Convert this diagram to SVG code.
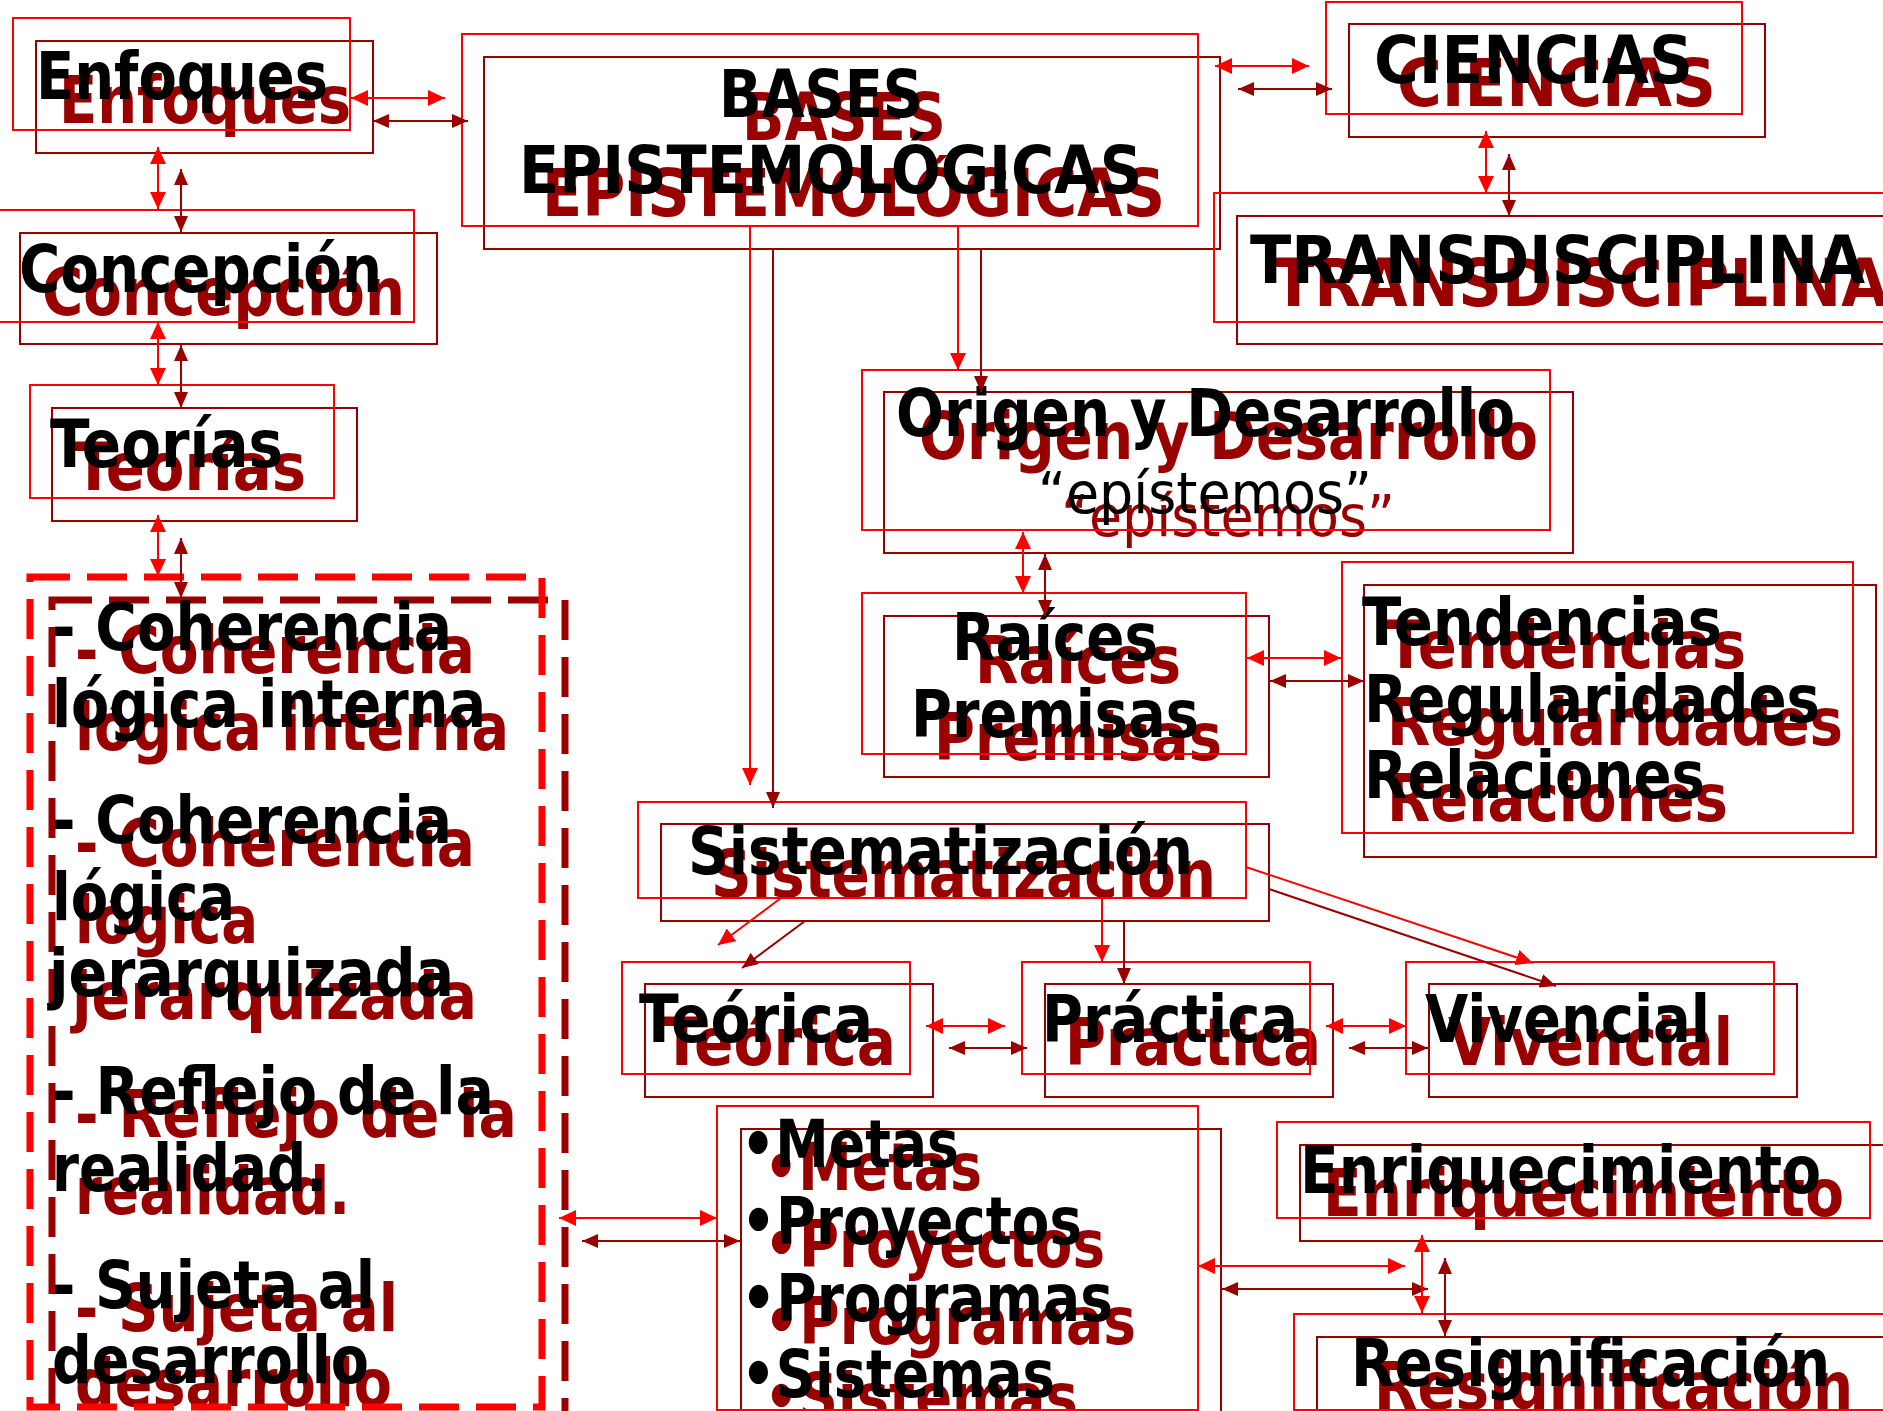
<svg xmlns="http://www.w3.org/2000/svg" width="1883" height="1411" viewBox="0 0 1883 1411">
<style>
.r{fill:none;stroke:#FF0000;stroke-width:2}
.d{fill:none;stroke:#990000;stroke-width:2}
.tb{font-family:'DejaVu Sans','Liberation Sans',sans-serif;font-weight:bold;font-size:65px;fill:#000000}
.td{font-family:'DejaVu Sans','Liberation Sans',sans-serif;font-weight:bold;font-size:65px;fill:#990000}
.nb{font-family:'DejaVu Sans','Liberation Sans',sans-serif;font-weight:normal;font-size:57px;fill:#000000}
.nd{font-family:'DejaVu Sans','Liberation Sans',sans-serif;font-weight:normal;font-size:57px;fill:#990000}
.cr{fill:none;stroke:#FF0000;stroke-width:2}
.cd{fill:none;stroke:#990000;stroke-width:2}
.c2r{marker-start:url(#ar);marker-end:url(#ar)}
.c2d{marker-start:url(#ad);marker-end:url(#ad)}
.c1r{marker-end:url(#ar)}
.c1d{marker-end:url(#ad)}
</style>
<defs>
<marker id="ar" markerUnits="userSpaceOnUse" markerWidth="17" markerHeight="16" viewBox="0 0 17 16" refX="17" refY="8" orient="auto-start-reverse"><path d="M0,0 L17,8 L0,16 z" fill="#FF0000"/></marker>
<marker id="ad" markerUnits="userSpaceOnUse" markerWidth="16" markerHeight="14" viewBox="0 0 16 14" refX="16" refY="7" orient="auto-start-reverse"><path d="M0,0 L16,7 L0,14 z" fill="#990000"/></marker>
</defs>
<rect x="0" y="0" width="1883" height="1411" fill="#FFFFFF"/>

<g id="enfoques">
<rect class="d" x="36" y="41" width="337" height="112"/>
<text class="td" x="59" y="123" textLength="292" lengthAdjust="spacingAndGlyphs">Enfoques</text>
<rect class="r" x="13" y="18" width="337" height="112"/>
<text class="tb" x="36" y="99" textLength="292" lengthAdjust="spacingAndGlyphs">Enfoques</text>
</g>

<g id="concepcion">
<rect class="d" x="20" y="233" width="417" height="111"/>
<text class="td" x="42" y="315" textLength="363" lengthAdjust="spacingAndGlyphs">Concepción</text>
<rect class="r" x="-3" y="210" width="417" height="112"/>
<text class="tb" x="19" y="292" textLength="363" lengthAdjust="spacingAndGlyphs">Concepción</text>
</g>

<g id="teorias">
<rect class="d" x="52" y="408" width="305" height="113"/>
<text class="td" x="74" y="490" textLength="232" lengthAdjust="spacingAndGlyphs">Teorías</text>
<rect class="r" x="30" y="385" width="304" height="113"/>
<text class="tb" x="50" y="467" textLength="233" lengthAdjust="spacingAndGlyphs">Teorías</text>
</g>

<g id="bases">
<rect class="d" x="484" y="57" width="736" height="192"/>
<text class="td" x="742" y="140" textLength="204" lengthAdjust="spacingAndGlyphs">BASES</text>
<text class="td" x="542" y="216" textLength="623" lengthAdjust="spacingAndGlyphs">EPISTEMOLÓGICAS</text>
<rect class="r" x="462" y="34" width="736" height="192"/>
<text class="tb" x="719" y="117" textLength="204" lengthAdjust="spacingAndGlyphs">BASES</text>
<text class="tb" x="519" y="193" textLength="623" lengthAdjust="spacingAndGlyphs">EPISTEMOLÓGICAS</text>
</g>

<g id="ciencias">
<rect class="d" x="1349" y="24" width="416" height="113"/>
<text class="td" x="1397" y="106" textLength="319" lengthAdjust="spacingAndGlyphs">CIENCIAS</text>
<rect class="r" x="1326" y="2" width="416" height="112"/>
<text class="tb" x="1374" y="83" textLength="319" lengthAdjust="spacingAndGlyphs">CIENCIAS</text>
</g>

<g id="transdisciplina">
<rect class="d" x="1237" y="216" width="700" height="128"/>
<text class="td" x="1273" y="306" textLength="615" lengthAdjust="spacingAndGlyphs">TRANSDISCIPLINA</text>
<rect class="r" x="1214" y="193" width="700" height="129"/>
<text class="tb" x="1250" y="283" textLength="615" lengthAdjust="spacingAndGlyphs">TRANSDISCIPLINA</text>
</g>

<g id="origen">
<rect class="d" x="884" y="392" width="689" height="161"/>
<text class="td" x="919" y="459" textLength="619" lengthAdjust="spacingAndGlyphs">Origen y Desarrollo</text>
<text class="nd" x="1061" y="536" textLength="334" lengthAdjust="spacingAndGlyphs">“epístemos”</text>
<rect class="r" x="862" y="370" width="688" height="160"/>
<text class="tb" x="896" y="436" textLength="619" lengthAdjust="spacingAndGlyphs">Origen y Desarrollo</text>
<text class="nb" x="1038" y="513" textLength="334" lengthAdjust="spacingAndGlyphs">“epístemos”</text>
</g>

<g id="raices">
<rect class="d" x="884" y="616" width="385" height="161"/>
<text class="td" x="975" y="683" textLength="206" lengthAdjust="spacingAndGlyphs">Raíces</text>
<text class="td" x="934" y="760" textLength="288" lengthAdjust="spacingAndGlyphs">Premisas</text>
<rect class="r" x="862" y="593" width="384" height="161"/>
<text class="tb" x="952" y="660" textLength="206" lengthAdjust="spacingAndGlyphs">Raíces</text>
<text class="tb" x="911" y="737" textLength="288" lengthAdjust="spacingAndGlyphs">Premisas</text>
</g>

<g id="tendencias">
<rect class="d" x="1364" y="585" width="512" height="272"/>
<text class="td" x="1386" y="668" textLength="360" lengthAdjust="spacingAndGlyphs">Tendencias</text>
<text class="td" x="1387" y="745" textLength="456" lengthAdjust="spacingAndGlyphs">Regularidades</text>
<text class="td" x="1387" y="821" textLength="341" lengthAdjust="spacingAndGlyphs">Relaciones</text>
<rect class="r" x="1342" y="562" width="511" height="271"/>
<text class="tb" x="1362" y="645" textLength="360" lengthAdjust="spacingAndGlyphs">Tendencias</text>
<text class="tb" x="1364" y="722" textLength="456" lengthAdjust="spacingAndGlyphs">Regularidades</text>
<text class="tb" x="1364" y="798" textLength="341" lengthAdjust="spacingAndGlyphs">Relaciones</text>
</g>

<g id="sistematizacion">
<rect class="d" x="661" y="824" width="608" height="97"/>
<text class="td" x="711" y="897" textLength="505" lengthAdjust="spacingAndGlyphs">Sistematización</text>
<rect class="r" x="638" y="802" width="608" height="96"/>
<text class="tb" x="688" y="874" textLength="505" lengthAdjust="spacingAndGlyphs">Sistematización</text>
</g>

<g id="teorica">
<rect class="d" x="645" y="984" width="288" height="113"/>
<text class="td" x="662" y="1065" textLength="234" lengthAdjust="spacingAndGlyphs">Teórica</text>
<rect class="r" x="622" y="962" width="288" height="112"/>
<text class="tb" x="639" y="1042" textLength="234" lengthAdjust="spacingAndGlyphs">Teórica</text>
</g>

<g id="practica">
<rect class="d" x="1045" y="984" width="288" height="113"/>
<text class="td" x="1065" y="1065" textLength="256" lengthAdjust="spacingAndGlyphs">Práctica</text>
<rect class="r" x="1022" y="962" width="288" height="112"/>
<text class="tb" x="1042" y="1042" textLength="256" lengthAdjust="spacingAndGlyphs">Práctica</text>
</g>

<g id="vivencial">
<rect class="d" x="1429" y="984" width="368" height="113"/>
<text class="td" x="1448" y="1065" textLength="285" lengthAdjust="spacingAndGlyphs">Vivencial</text>
<rect class="r" x="1406" y="962" width="368" height="112"/>
<text class="tb" x="1425" y="1042" textLength="285" lengthAdjust="spacingAndGlyphs">Vivencial</text>
</g>

<g id="coherencia">
<rect x="52" y="600" width="513" height="860" fill="none" stroke="#990000" stroke-width="7" stroke-dasharray="40 17"/>
<text class="td" x="75" y="673" textLength="400" lengthAdjust="spacingAndGlyphs">- Coherencia</text>
<text class="td" x="75" y="750" textLength="434" lengthAdjust="spacingAndGlyphs">lógica interna</text>
<text class="td" x="75" y="866" textLength="400" lengthAdjust="spacingAndGlyphs">- Coherencia</text>
<text class="td" x="75" y="943" textLength="183" lengthAdjust="spacingAndGlyphs">lógica</text>
<text class="td" x="72" y="1019" textLength="405" lengthAdjust="spacingAndGlyphs">jerarquizada</text>
<text class="td" x="75" y="1137" textLength="442" lengthAdjust="spacingAndGlyphs">- Reflejo de la</text>
<text class="td" x="75" y="1214" textLength="275" lengthAdjust="spacingAndGlyphs">realidad.</text>
<text class="td" x="75" y="1331" textLength="323" lengthAdjust="spacingAndGlyphs">- Sujeta al</text>
<text class="td" x="75" y="1406" textLength="317" lengthAdjust="spacingAndGlyphs">desarrollo</text>
<rect x="30" y="577" width="512" height="830" fill="none" stroke="#FF0000" stroke-width="7" stroke-dasharray="40 17"/>
<text class="tb" x="52" y="650" textLength="400" lengthAdjust="spacingAndGlyphs">- Coherencia</text>
<text class="tb" x="52" y="727" textLength="434" lengthAdjust="spacingAndGlyphs">lógica interna</text>
<text class="tb" x="52" y="843" textLength="400" lengthAdjust="spacingAndGlyphs">- Coherencia</text>
<text class="tb" x="52" y="920" textLength="183" lengthAdjust="spacingAndGlyphs">lógica</text>
<text class="tb" x="49" y="996" textLength="405" lengthAdjust="spacingAndGlyphs">jerarquizada</text>
<text class="tb" x="52" y="1114" textLength="442" lengthAdjust="spacingAndGlyphs">- Reflejo de la</text>
<text class="tb" x="52" y="1191" textLength="275" lengthAdjust="spacingAndGlyphs">realidad.</text>
<text class="tb" x="52" y="1308" textLength="323" lengthAdjust="spacingAndGlyphs">- Sujeta al</text>
<text class="tb" x="52" y="1383" textLength="317" lengthAdjust="spacingAndGlyphs">desarrollo</text>
</g>

<g id="metas">
<rect class="d" x="741" y="1129" width="480" height="320"/>
<text class="td" x="764" y="1190" textLength="218" lengthAdjust="spacingAndGlyphs">•Metas</text>
<text class="td" x="764" y="1267" textLength="341" lengthAdjust="spacingAndGlyphs">•Proyectos</text>
<text class="td" x="764" y="1344" textLength="372" lengthAdjust="spacingAndGlyphs">•Programas</text>
<text class="td" x="764" y="1420" textLength="314" lengthAdjust="spacingAndGlyphs">•Sistemas</text>
<rect class="r" x="717" y="1106" width="481" height="304"/>
<text class="tb" x="741" y="1167" textLength="218" lengthAdjust="spacingAndGlyphs">•Metas</text>
<text class="tb" x="741" y="1244" textLength="341" lengthAdjust="spacingAndGlyphs">•Proyectos</text>
<text class="tb" x="741" y="1321" textLength="372" lengthAdjust="spacingAndGlyphs">•Programas</text>
<text class="tb" x="741" y="1397" textLength="314" lengthAdjust="spacingAndGlyphs">•Sistemas</text>
</g>

<g id="enriquecimiento">
<rect class="d" x="1300" y="1145" width="620" height="96"/>
<text class="td" x="1323" y="1216" textLength="521" lengthAdjust="spacingAndGlyphs">Enriquecimiento</text>
<rect class="r" x="1277" y="1122" width="593" height="96"/>
<text class="tb" x="1300" y="1193" textLength="521" lengthAdjust="spacingAndGlyphs">Enriquecimiento</text>
</g>

<g id="resignificacion">
<rect class="d" x="1317" y="1337" width="620" height="110"/>
<text class="td" x="1374" y="1409" textLength="479" lengthAdjust="spacingAndGlyphs">Resignificación</text>
<rect class="r" x="1294" y="1314" width="620" height="96"/>
<text class="tb" x="1351" y="1386" textLength="479" lengthAdjust="spacingAndGlyphs">Resignificación</text>
</g>

<g id="connectors">
<line class="cr c2r" x1="351" y1="98" x2="445" y2="98"/>
<line class="cd c2d" x1="373" y1="121" x2="468" y2="121"/>
<line class="cr c2r" x1="158" y1="147" x2="158" y2="209"/>
<line class="cd c2d" x1="181" y1="169" x2="181" y2="232"/>
<line class="cr c2r" x1="158" y1="322" x2="158" y2="385"/>
<line class="cd c2d" x1="181" y1="345" x2="181" y2="408"/>
<line class="cr c2r" x1="158" y1="515" x2="158" y2="576"/>
<line class="cd c2d" x1="181" y1="538" x2="181" y2="598"/>
<line class="cr c2r" x1="1215" y1="66" x2="1309" y2="66"/>
<line class="cd c2d" x1="1238" y1="89" x2="1332" y2="89"/>
<line class="cr c2r" x1="1486" y1="131" x2="1486" y2="193"/>
<line class="cd c2d" x1="1509" y1="154" x2="1509" y2="216"/>
<line class="cr c1r" x1="958" y1="226" x2="958" y2="370"/>
<line class="cd c1d" x1="981" y1="249" x2="981" y2="392"/>
<line class="cr c1r" x1="750" y1="226" x2="750" y2="785"/>
<line class="cd c1d" x1="773" y1="249" x2="773" y2="808"/>
<line class="cr c2r" x1="1023" y1="532" x2="1023" y2="593"/>
<line class="cd c2d" x1="1045" y1="554" x2="1045" y2="616"/>
<line class="cr c2r" x1="1247" y1="658" x2="1341" y2="658"/>
<line class="cd c2d" x1="1270" y1="681" x2="1364" y2="681"/>
<line class="cr c1r" x1="781" y1="898" x2="718" y2="945"/>
<line class="cd c1d" x1="805" y1="921" x2="742" y2="968"/>
<line class="cr c1r" x1="1102" y1="898" x2="1102" y2="962"/>
<line class="cd c1d" x1="1124" y1="921" x2="1124" y2="984"/>
<line class="cr c1r" x1="1246" y1="867" x2="1533" y2="963"/>
<line class="cd c1d" x1="1269" y1="889" x2="1556" y2="986"/>
<line class="cr c2r" x1="926" y1="1026" x2="1005" y2="1026"/>
<line class="cd c2d" x1="949" y1="1048" x2="1027" y2="1048"/>
<line class="cr c2r" x1="1326" y1="1026" x2="1406" y2="1026"/>
<line class="cd c2d" x1="1349" y1="1048" x2="1428" y2="1048"/>
<line class="cr c2r" x1="559" y1="1218" x2="717" y2="1218"/>
<line class="cd c2d" x1="582" y1="1241" x2="740" y2="1241"/>
<line class="cr c2r" x1="1198" y1="1266" x2="1405" y2="1266"/>
<line class="cd c2d" x1="1222" y1="1289" x2="1428" y2="1289"/>
<line class="cr c2r" x1="1422" y1="1235" x2="1422" y2="1313"/>
<line class="cd c2d" x1="1445" y1="1258" x2="1445" y2="1336"/>
</g>
</svg>
